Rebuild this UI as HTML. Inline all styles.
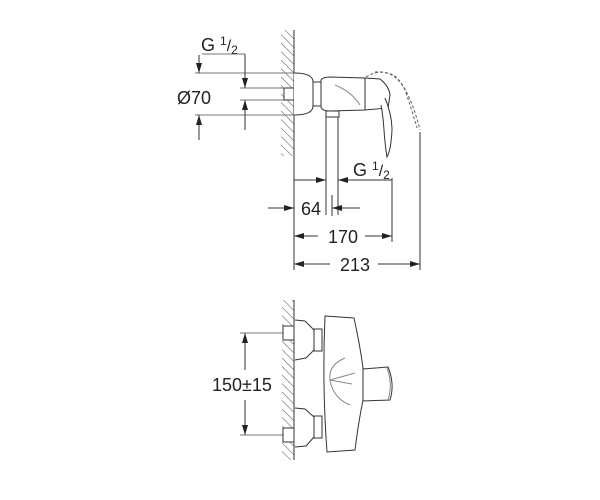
<!DOCTYPE html>
<html><head><style>body{margin:0;background:#fff}svg{display:block}</style></head><body>
<svg width="600" height="500" viewBox="0 0 600 500" xmlns="http://www.w3.org/2000/svg" font-family="Liberation Sans, sans-serif">
<defs>
<pattern id="h" width="6" height="6" patternUnits="userSpaceOnUse" patternTransform="rotate(-45)"><line x1="0" y1="0" x2="0" y2="6" stroke="#555" stroke-width="1"/></pattern>
<marker id="a" markerWidth="10" markerHeight="6" refX="10" refY="3" orient="auto" markerUnits="userSpaceOnUse"><path d="M0,0 L10,3 L0,6z" fill="#222"/></marker>
</defs>
<g stroke="#333" fill="none" stroke-width="1">
<rect x="281" y="30" width="13" height="126" fill="url(#h)" stroke="none"/>
<line x1="294" y1="30" x2="294" y2="270"/>
<line x1="195" y1="73" x2="294" y2="73" stroke="#777"/>
<line x1="240" y1="88" x2="284" y2="88" stroke="#777"/>
<line x1="240" y1="100" x2="284" y2="100" stroke="#777"/>
<line x1="195" y1="115" x2="294" y2="115" stroke="#777"/>
<line x1="202" y1="54" x2="245" y2="54" stroke="#777"/>
<line x1="199" y1="55" x2="199" y2="73" marker-end="url(#a)"/>
<line x1="199" y1="140" x2="199" y2="115" marker-end="url(#a)"/>
<line x1="245" y1="54" x2="245" y2="88" marker-end="url(#a)"/>
<line x1="245" y1="130" x2="245" y2="100" marker-end="url(#a)"/>
<rect x="284" y="88" width="10" height="12" fill="#fff"/>
<path d="M294,73 C306,73 313,76 313,82 L313,106 C313,112 306,115 294,115" fill="#fff"/>
<rect x="313" y="82" width="8" height="24"/>
<path d="M321,80 Q323,77 330,77 L365,78 L365,110 L330,111 Q321,111 321,106z" fill="#fff"/>
<path d="M335,85 Q352,92 360,105" stroke="#888"/>
<rect x="326" y="111" width="13" height="6"/>
<line x1="326" y1="117" x2="326" y2="215"/>
<line x1="338" y1="117" x2="338" y2="215"/>
<path d="M365,78 L380,79 Q389,86 390,95 L388,108 L365,110z" fill="#fff"/>
<path d="M385,98 Q392,115 392,130 Q391,150 387,157 Q385,145 384,130 Q383,115 381,105" fill="#fff"/>
<path d="M366,77 Q380,68 395,76 Q410,90 420,130" stroke-dasharray="3,2" stroke="#666"/>
<path d="M375,72 Q395,70 405,90 Q412,110 417,128" stroke-dasharray="3,2" stroke="#666"/>
<line x1="420" y1="132" x2="420" y2="270"/>
<line x1="332" y1="195" x2="332" y2="216"/>
<line x1="392" y1="160" x2="392" y2="242"/>
<line x1="294" y1="180" x2="326" y2="180" marker-end="url(#a)"/>
<line x1="392" y1="180" x2="338" y2="180" marker-end="url(#a)"/>
<line x1="268" y1="208" x2="294" y2="208" marker-end="url(#a)"/>
<line x1="360" y1="208" x2="332" y2="208" marker-end="url(#a)"/>
<line x1="318" y1="236" x2="294" y2="236" marker-end="url(#a)"/>
<line x1="365" y1="236" x2="392" y2="236" marker-end="url(#a)"/>
<line x1="330" y1="264" x2="294" y2="264" marker-end="url(#a)"/>
<line x1="378" y1="264" x2="420" y2="264" marker-end="url(#a)"/>
</g>
<g fill="#222" font-size="18">
<rect x="200" y="33" width="44" height="20" fill="#fff"/>
<text x="201" y="51">G <tspan font-size="12" dy="-6">1</tspan><tspan font-size="16" dy="6">/</tspan><tspan font-size="12" dy="3">2</tspan></text>
<text x="177" y="104">Ø70</text>
<rect x="352" y="158" width="42" height="20" fill="#fff"/>
<text x="353" y="176">G <tspan font-size="12" dy="-6">1</tspan><tspan font-size="16" dy="6">/</tspan><tspan font-size="12" dy="3">2</tspan></text>
<text x="301" y="215">64</text>
<text x="328" y="243">170</text>
<text x="340" y="271">213</text>
<text x="212" y="391">150±15</text>
</g>
<g stroke="#333" fill="none" stroke-width="1">
<rect x="282" y="300" width="12" height="160" fill="url(#h)" stroke="none"/>
<line x1="294" y1="300" x2="294" y2="460"/>
<line x1="240" y1="333" x2="292" y2="333" stroke="#777"/>
<line x1="240" y1="435" x2="292" y2="435" stroke="#777"/>
<line x1="245" y1="370" x2="245" y2="333" marker-end="url(#a)"/>
<line x1="245" y1="400" x2="245" y2="435" marker-end="url(#a)"/>
<rect x="283" y="326" width="11" height="14" fill="#fff"/>
<rect x="283" y="428" width="11" height="14" fill="#fff"/>
<path d="M295,320 L305,321 L314,330 L314,350 L306,358 L295,360" fill="#fff"/>
<path d="M295,408 L305,409 L314,417 L314,437 L306,446 L295,447" fill="#fff"/>
<rect x="314" y="329" width="8" height="22"/>
<rect x="314" y="416" width="8" height="22"/>
<path d="M325,316 L354,318 Q360,345 363,368 L363,400 Q358,425 355,450 L327,452 Q322,385 325,316z" fill="#fff"/>
<path d="M345,358 Q328,365 330,380 M330,380 L355,373 M330,380 L352,384 M330,380 Q333,398 350,405" stroke="#888"/>
<path d="M363,369 L388,367 Q395,384 390,400 L363,401z" fill="#fff"/>
<path d="M387,368 Q393,384 388,400" stroke="#888"/>
</g>
</svg>
</body></html>
